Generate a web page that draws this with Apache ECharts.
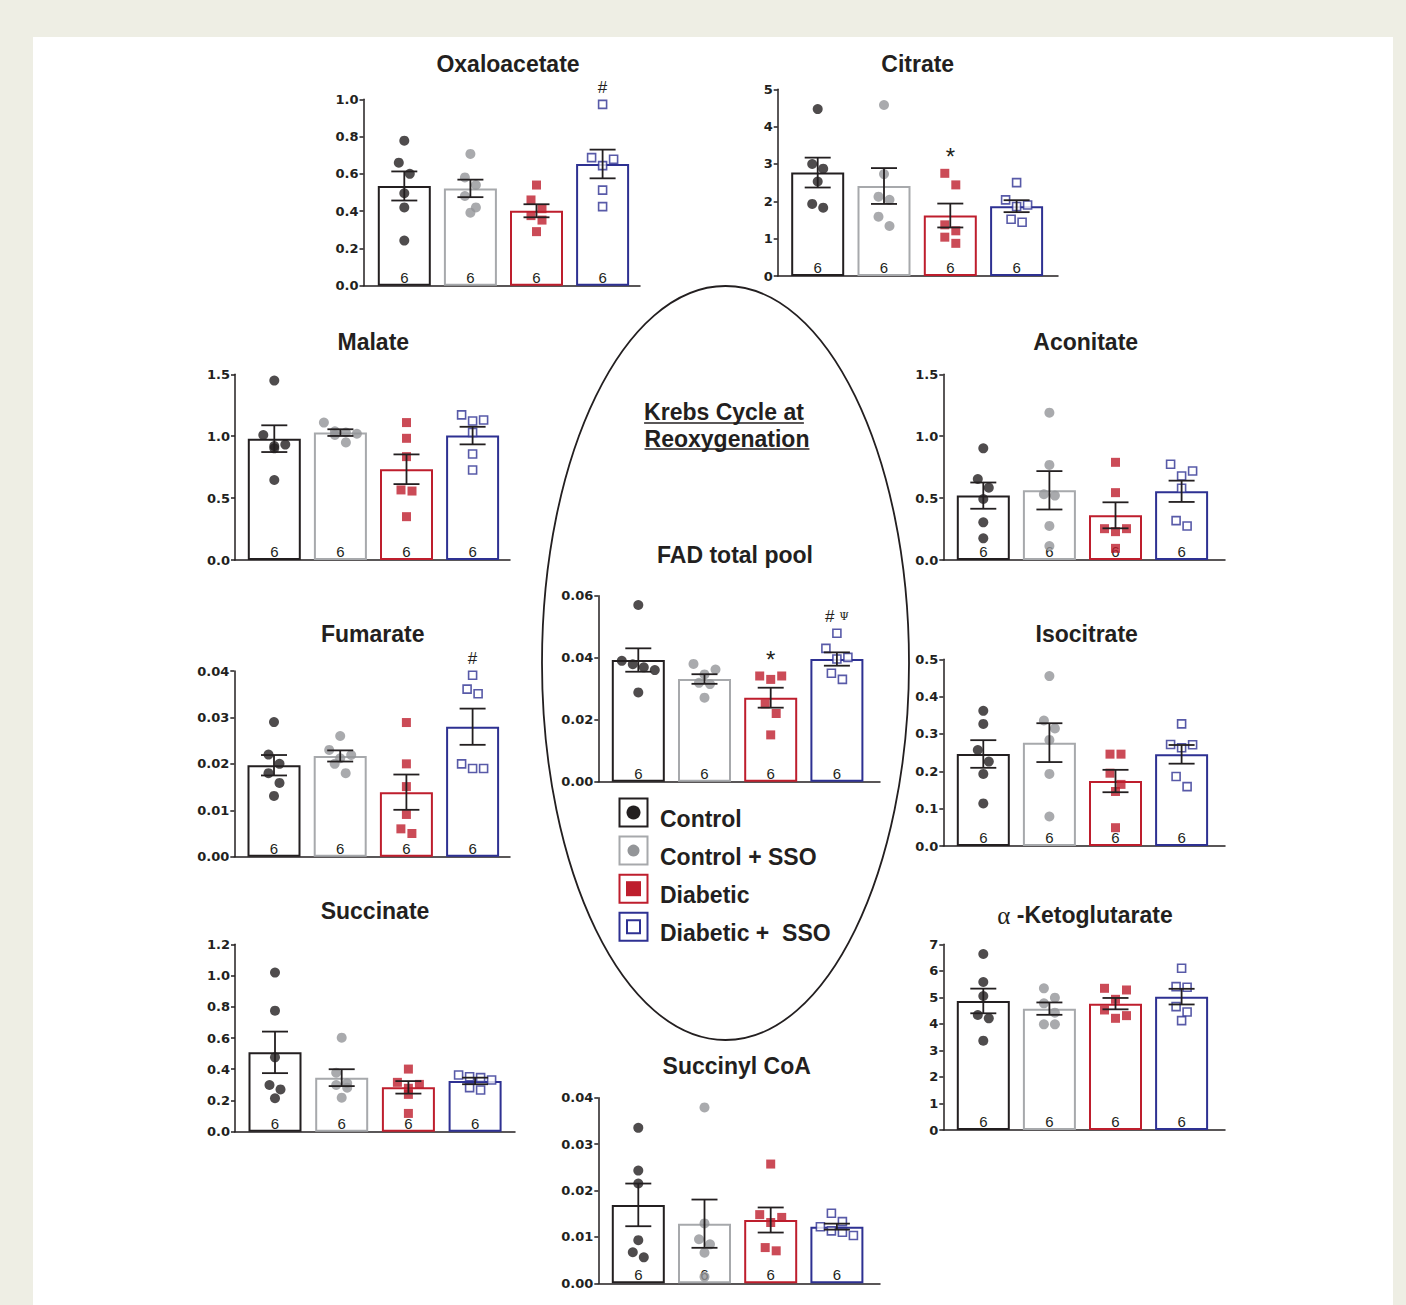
<!DOCTYPE html>
<html>
<head>
<meta charset="utf-8">
<script src="https://cdn.jsdelivr.net/npm/echarts@6/dist/echarts.min.js"></script>
<style>
  html, body { margin: 0; padding: 0; background: #eeeee4; }
  #paper { position: absolute; left: 33px; top: 37px; width: 1360px; height: 1268px; background: #ffffff; }
  #chart { position: absolute; left: 0; top: 0; width: 1406px; height: 1305px; }
</style>
</head>
<body>
<div id="paper"></div>
<div id="chart"></div>
<script>
// ---------------- DATA ----------------
const groups = ['Control', 'Control + SSO', 'Diabetic', 'Diabetic +  SSO'];

const oxaloTicks = ['0.0', '0.2', '0.4', '0.6', '0.8', '1.0'];
const oxaloMean = [0.535, 0.522, 0.402, 0.653];
const oxaloSem = [0.078, 0.047, 0.035, 0.077];
const oxaloPoints = [
  [0.778, 0.66, 0.60, 0.496, 0.42, 0.242],
  [0.707, 0.581, 0.540, 0.481, 0.42, 0.392],
  [0.540, 0.460, 0.413, 0.376, 0.352, 0.290],
  [0.973, 0.687, 0.678, 0.644, 0.513, 0.424]
];
const oxaloN = [6, 6, 6, 6];
const oxaloSig = ['', '', '', '#'];

const citrateTicks = ['0', '1', '2', '3', '4', '5'];
const citrateMean = [2.77, 2.41, 1.62, 1.87];
const citrateSem = [0.40, 0.48, 0.32, 0.16];
const citratePoints = [
  [4.47, 3.0, 2.875, 2.53, 1.93, 1.83],
  [4.58, 2.73, 2.125, 2.04, 1.59, 1.34],
  [2.75, 2.44, 1.37, 1.21, 1.04, 0.875],
  [2.50, 2.04, 1.90, 1.86, 1.52, 1.44]
];
const citrateN = [6, 6, 6, 6];
const citrateSig = ['', '', '*', ''];

const malateTicks = ['0.0', '0.5', '1.0', '1.5'];
const malateMean = [0.98, 1.029, 0.733, 1.005];
const malateSem = [0.108, 0.027, 0.12, 0.071];
const malatePoints = [
  [1.449, 1.01, 0.932, 0.921, 0.902, 0.646],
  [1.11, 1.04, 1.03, 1.02, 1.01, 0.95],
  [1.11, 0.983, 0.835, 0.566, 0.557, 0.35],
  [1.172, 1.131, 1.123, 1.031, 0.856, 0.727]
];
const malateN = [6, 6, 6, 6];
const malateSig = ['', '', '', ''];

const aconitateTicks = ['0.0', '0.5', '1.0', '1.5'];
const aconitateMean = [0.52, 0.563, 0.361, 0.555];
const aconitateSem = [0.106, 0.155, 0.105, 0.086];
const aconitatePoints = [
  [0.902, 0.654, 0.584, 0.493, 0.304, 0.175],
  [1.19, 0.768, 0.531, 0.52, 0.275, 0.113],
  [0.789, 0.544, 0.253, 0.253, 0.229, 0.094],
  [0.773, 0.719, 0.679, 0.579, 0.318, 0.275]
];
const aconitateN = [6, 6, 6, 6];
const aconitateSig = ['', '', '', ''];

const fumarateTicks = ['0.00', '0.01', '0.02', '0.03', '0.04'];
const fumarateMean = [0.0197, 0.0217, 0.0139, 0.0280];
const fumarateSem = [0.0022, 0.0012, 0.0038, 0.0039];
const fumaratePoints = [
  [0.029, 0.022, 0.020, 0.018, 0.0159, 0.0131],
  [0.026, 0.023, 0.0219, 0.0212, 0.020, 0.018],
  [0.0289, 0.020, 0.0151, 0.0091, 0.0060, 0.0050],
  [0.0391, 0.0361, 0.0351, 0.0200, 0.0190, 0.0190]
];
const fumarateN = [6, 6, 6, 6];
const fumarateSig = ['', '', '', '#'];

const isocitrateTicks = ['0.0', '0.1', '0.2', '0.3', '0.4', '0.5'];
const isocitrateMean = [0.2464, 0.2768, 0.174, 0.2455];
const isocitrateSem = [0.037, 0.052, 0.030, 0.025];
const isocitratePoints = [
  [0.362, 0.327, 0.257, 0.226, 0.193, 0.114],
  [0.455, 0.336, 0.315, 0.284, 0.193, 0.079],
  [0.246, 0.246, 0.195, 0.165, 0.146, 0.049],
  [0.327, 0.272, 0.271, 0.263, 0.186, 0.159]
];
const isocitrateN = [6, 6, 6, 6];
const isocitrateSig = ['', '', '', ''];

const succinateTicks = ['0.0', '0.2', '0.4', '0.6', '0.8', '1.0', '1.2'];
const succinateMean = [0.508, 0.346, 0.284, 0.325];
const succinateSem = [0.133, 0.054, 0.040, 0.021];
const succinatePoints = [
  [1.019, 0.775, 0.476, 0.299, 0.271, 0.214],
  [0.602, 0.378, 0.310, 0.299, 0.282, 0.218],
  [0.401, 0.316, 0.303, 0.278, 0.239, 0.117],
  [0.363, 0.352, 0.346, 0.331, 0.282, 0.267]
];
const succinateN = [6, 6, 6, 6];
const succinateSig = ['', '', '', ''];

const akgTicks = ['0', '1', '2', '3', '4', '5', '6', '7'];
const akgMean = [4.864, 4.575, 4.763, 5.027];
const akgSem = [0.465, 0.233, 0.214, 0.295];
const akgPoints = [
  [6.636, 5.58, 5.052, 4.336, 4.21, 3.368],
  [5.341, 4.989, 4.776, 4.424, 3.984, 3.984],
  [5.341, 5.278, 4.926, 4.524, 4.311, 4.21],
  [6.095, 5.404, 5.379, 4.65, 4.449, 4.122]
];
const akgN = [6, 6, 6, 6];
const akgSig = ['', '', '', ''];

const succoaTicks = ['0.00', '0.01', '0.02', '0.03', '0.04'];
const succoaMean = [0.0169, 0.01285, 0.01364, 0.01221];
const succoaSem = [0.0046, 0.0052, 0.0027, 0.00065];
const succoaPoints = [
  [0.0335, 0.0243, 0.0215, 0.0093, 0.0067, 0.0056],
  [0.0379, 0.0129, 0.0095, 0.0084, 0.0066, 0.0014],
  [0.0257, 0.0148, 0.0142, 0.0131, 0.0077, 0.0070],
  [0.0151, 0.0133, 0.0122, 0.0113, 0.0110, 0.0103]
];
const succoaN = [6, 6, 6, 6];
const succoaSig = ['', '', '', ''];

const fadTicks = ['0.00', '0.02', '0.04', '0.06'];
const fadMean = [0.03925, 0.03312, 0.0271, 0.03957];
const fadSem = [0.00377, 0.00155, 0.00322, 0.00215];
const fadPoints = [
  [0.0570, 0.0390, 0.0379, 0.0369, 0.0360, 0.0288],
  [0.0380, 0.0362, 0.0346, 0.0319, 0.0315, 0.0271],
  [0.0341, 0.0341, 0.0330, 0.0251, 0.0220, 0.0151],
  [0.0479, 0.0430, 0.0401, 0.0396, 0.0350, 0.0330]
];
const fadN = [6, 6, 6, 6];
const fadSig = ['', '', '*', '#Ψ'];

const centerTitle = ['Krebs Cycle at', 'Reoxygenation'];
const legendLabels = groups;

// ---------------- LAYOUT & STYLE ----------------
const panels = [
  { key: 'oxalo', title: 'Oxaloacetate', ticks: oxaloTicks, mean: oxaloMean, sem: oxaloSem, pts: oxaloPoints, n: oxaloN, sig: oxaloSig },
  { key: 'citrate', title: 'Citrate', ticks: citrateTicks, mean: citrateMean, sem: citrateSem, pts: citratePoints, n: citrateN, sig: citrateSig },
  { key: 'malate', title: 'Malate', ticks: malateTicks, mean: malateMean, sem: malateSem, pts: malatePoints, n: malateN, sig: malateSig },
  { key: 'aconitate', title: 'Aconitate', ticks: aconitateTicks, mean: aconitateMean, sem: aconitateSem, pts: aconitatePoints, n: aconitateN, sig: aconitateSig },
  { key: 'fumarate', title: 'Fumarate', ticks: fumarateTicks, mean: fumarateMean, sem: fumarateSem, pts: fumaratePoints, n: fumarateN, sig: fumarateSig },
  { key: 'isocitrate', title: 'Isocitrate', ticks: isocitrateTicks, mean: isocitrateMean, sem: isocitrateSem, pts: isocitratePoints, n: isocitrateN, sig: isocitrateSig },
  { key: 'succinate', title: 'Succinate', ticks: succinateTicks, mean: succinateMean, sem: succinateSem, pts: succinatePoints, n: succinateN, sig: succinateSig },
  { key: 'akg', title: '{a|α} -Ketoglutarate', ticks: akgTicks, mean: akgMean, sem: akgSem, pts: akgPoints, n: akgN, sig: akgSig },
  { key: 'succoa', title: 'Succinyl CoA', ticks: succoaTicks, mean: succoaMean, sem: succoaSem, pts: succoaPoints, n: succoaN, sig: succoaSig },
  { key: 'fad', title: 'FAD total pool', ticks: fadTicks, mean: fadMean, sem: fadSem, pts: fadPoints, n: fadN, sig: fadSig }
];

const LAYOUT = {
  oxalo:      { axisX: 363.5, top: 99.3,   bottom: 285.7,  c1: 404.3, sp: 66.1, end: 640,  tx: 508,    ty: 63.5 },
  citrate:    { axisX: 777.7, top: 89.3,   bottom: 276,    c1: 817.7, sp: 66.3, end: 1058, tx: 917.7,  ty: 63.5 },
  malate:     { axisX: 235,   top: 374.3,  bottom: 560,    c1: 274.3, sp: 66.1, end: 510,  tx: 373.3,  ty: 342 },
  aconitate:  { axisX: 943.3, top: 374.3,  bottom: 560,    c1: 983.3, sp: 66.1, end: 1225, tx: 1085.7, ty: 342 },
  fumarate:   { axisX: 234.3, top: 671,    bottom: 856.7,  c1: 274,   sp: 66.2, end: 510,  tx: 372.7,  ty: 633.5 },
  isocitrate: { axisX: 943.3, top: 659.3,  bottom: 846,    c1: 983.3, sp: 66.1, end: 1225, tx: 1086.7, ty: 633.5 },
  succinate:  { axisX: 235,   top: 944.3,  bottom: 1131.7, c1: 275,   sp: 66.7, end: 515,  tx: 375,    ty: 911 },
  akg:        { axisX: 943.3, top: 944.3,  bottom: 1130,   c1: 983.3, sp: 66.1, end: 1225, tx: 1085,   ty: 915 },
  succoa:     { axisX: 598.3, top: 1097.7, bottom: 1283.3, c1: 638.3, sp: 66.2, end: 880,  tx: 736.7,  ty: 1065.5 },
  fad:        { axisX: 598.3, top: 595.7,  bottom: 781.7,  c1: 638.3, sp: 66.2, end: 880,  tx: 735,    ty: 554.5 }
};

const INK = '#231f20';
const BAR_COL = ['#231f20', '#a7a9ac', '#be1e2d', '#2e3192'];
const PT_STYLE = [
  { symbol: 'circle', symbolSize: 10, itemStyle: { color: '#231f20' } },
  { symbol: 'circle', symbolSize: 10, itemStyle: { color: '#939598' } },
  { symbol: 'rect', symbolSize: 9, itemStyle: { color: '#be1e2d' } },
  { symbol: 'rect', symbolSize: 8, itemStyle: { color: '#ffffff', borderColor: '#2e3192', borderWidth: 1.6 } }
];
const BAR_W = 53, STEP = 11, ROWH = 12, CAP = 13;
const SANS = '"Liberation Sans", Arial, Helvetica, sans-serif';

// simple symmetric swarm: returns horizontal offsets in px
function swarm(vals, pxPerUnit) {
  const idx = vals.map((v, i) => i).sort((a, b) => vals[b] - vals[a]);
  const off = new Array(vals.length).fill(0);
  let row = [];
  const flush = () => {
    const k = row.length;
    const order = k === 3 ? [-1, 1, 0] : row.map((_, j) => j - (k - 1) / 2);
    row.forEach((id, j) => { off[id] = order[j] * STEP; });
    row = [];
  };
  idx.forEach(id => {
    if (row.length && (vals[row[0]] - vals[id]) * pxPerUnit > ROWH) flush();
    row.push(id);
  });
  flush();
  return off;
}

const grids = [], xAxes = [], yAxes = [], series = [], titles = [];

panels.forEach((p, i) => {
  const L = LAYOUT[p.key];
  const yMin = parseFloat(p.ticks[0]);
  const yMax = parseFloat(p.ticks[p.ticks.length - 1]);
  const yInt = parseFloat(p.ticks[1]) - yMin;
  const h = L.bottom - L.top;
  const pxPerUnit = h / (yMax - yMin);

  grids.push({ left: L.axisX, top: L.top, width: L.end - L.axisX, height: h, containLabel: false });
  xAxes.push({
    gridIndex: i, type: 'value',
    min: -(L.c1 - L.axisX) / L.sp, max: (L.end - L.c1) / L.sp,
    axisLine: { show: true, onZero: false, lineStyle: { color: INK, width: 1.5 } },
    axisTick: { show: false }, axisLabel: { show: false }, splitLine: { show: false }
  });
  yAxes.push({
    gridIndex: i, type: 'value', min: yMin, max: yMax, interval: yInt,
    axisLine: { show: true, onZero: false, lineStyle: { color: INK, width: 1.5 } },
    axisTick: { show: true, length: 4, lineStyle: { color: INK, width: 1.5 } },
    axisLabel: {
      margin: 5, color: INK, fontFamily: '"DejaVu Sans", sans-serif', fontWeight: 'bold', fontSize: 13,
      formatter: v => p.ticks[Math.round((v - yMin) / yInt)]
    },
    splitLine: { show: false }
  });

  titles.push({
    text: p.title, left: L.tx, top: L.ty, textAlign: 'center', textVerticalAlign: 'middle', padding: 0,
    textStyle: {
      fontFamily: SANS, fontWeight: 'bold', fontSize: 23, color: INK,
      rich: { a: { fontFamily: '"Liberation Serif", serif', fontWeight: 'normal', fontSize: 25, color: INK } }
    }
  });

  // bars
  series.push({
    type: 'bar', xAxisIndex: i, yAxisIndex: i, barWidth: BAR_W, silent: true, z: 2,
    data: p.mean.map((m, g) => ({
      value: [g, m],
      itemStyle: { color: '#ffffff', borderColor: BAR_COL[g], borderWidth: 2 }
    })),
    label: {
      show: true, position: 'insideBottom', distance: 1,
      fontFamily: SANS, fontSize: 15, color: INK,
      formatter: prm => String(p.n[prm.dataIndex])
    }
  });

  // individual points
  const ptData = [];
  p.pts.forEach((vals, g) => {
    const off = swarm(vals, pxPerUnit);
    vals.forEach((v, k) => {
      ptData.push(Object.assign({ value: [g + off[k] / L.sp, v] }, PT_STYLE[g]));
    });
  });
  series.push({ type: 'scatter', xAxisIndex: i, yAxisIndex: i, silent: true, z: 3, data: ptData });

  // error bars (mean ± SEM)
  series.push({
    type: 'custom', xAxisIndex: i, yAxisIndex: i, silent: true, z: 4,
    encode: { x: 0, y: [1, 2] },
    data: p.mean.map((m, g) => [g, m - p.sem[g], m + p.sem[g]]),
    renderItem: (params, api) => {
      const lo = api.coord([api.value(0), api.value(1)]);
      const hi = api.coord([api.value(0), api.value(2)]);
      const st = { stroke: INK, lineWidth: 1.8 };
      return {
        type: 'group', children: [
          { type: 'line', shape: { x1: lo[0], y1: lo[1], x2: hi[0], y2: hi[1] }, style: st },
          { type: 'line', shape: { x1: hi[0] - CAP, y1: hi[1], x2: hi[0] + CAP, y2: hi[1] }, style: st },
          { type: 'line', shape: { x1: lo[0] - CAP, y1: lo[1], x2: lo[0] + CAP, y2: lo[1] }, style: st }
        ]
      };
    }
  });

  // significance marks above the highest point of a group
  const sigData = [];
  p.sig.forEach((s, g) => {
    if (!s) return;
    const top = Math.max(...p.pts[g], p.mean[g] + p.sem[g]);
    const isStar = s === '*';
    sigData.push({
      value: [g, top],
      label: {
        show: true, position: 'top', distance: isStar ? 4 : 8,
        formatter: s.replace('Ψ', ' {p|Ψ}'),
        fontFamily: SANS, fontSize: isStar ? 24 : 17, color: INK, opacity: 1,
        rich: { p: { fontFamily: '"DejaVu Serif", serif', fontSize: 11, color: INK } }
      }
    });
  });
  if (sigData.length) {
    series.push({
      type: 'scatter', xAxisIndex: i, yAxisIndex: i, silent: true, z: 5,
      symbolSize: 1, itemStyle: { color: 'rgba(0,0,0,0)' }, data: sigData
    });
  }
});

// ---------- center decorations: ellipse, title, legend ----------
const measure = document.createElement('canvas').getContext('2d');
measure.font = 'bold 23px "Liberation Sans"';
const graphics = [
  { type: 'ellipse', shape: { cx: 725.5, cy: 663, rx: 183.5, ry: 377 }, style: { fill: 'none', stroke: INK, lineWidth: 1.8 }, silent: true }
];
const ctPos = [[724, 411.5, 423], [727, 439, 449]];
centerTitle.forEach((t, k) => {
  const w = measure.measureText(t).width;
  const [cx, cy, uy] = ctPos[k];
  graphics.push({ type: 'text', x: cx, y: cy, style: { text: t, fill: INK, font: 'bold 23px ' + SANS, align: 'center', verticalAlign: 'middle' } });
  graphics.push({ type: 'line', shape: { x1: cx - w / 2, y1: uy, x2: cx + w / 2, y2: uy }, style: { stroke: INK, lineWidth: 1.5 } });
});

legendLabels.forEach((lab, g) => {
  const bx = 619.5, by = 798.5 + g * 38.1, bs = 28;
  const cx = bx + bs / 2, cy = by + bs / 2;
  graphics.push({ type: 'rect', shape: { x: bx, y: by, width: bs, height: bs }, style: { fill: '#fff', stroke: BAR_COL[g], lineWidth: 2 } });
  let marker;
  if (g === 0) marker = { type: 'circle', shape: { cx, cy, r: 7 }, style: { fill: '#231f20' } };
  else if (g === 1) marker = { type: 'circle', shape: { cx, cy, r: 6 }, style: { fill: '#939598' } };
  else if (g === 2) marker = { type: 'rect', shape: { x: cx - 7.5, y: cy - 7.5, width: 15, height: 15 }, style: { fill: '#be1e2d' } };
  else marker = { type: 'rect', shape: { x: cx - 6.5, y: cy - 6.5, width: 13, height: 13 }, style: { fill: '#fff', stroke: '#2e3192', lineWidth: 2 } };
  graphics.push(marker);
  graphics.push({ type: 'text', x: 660, y: 819.3 + g * 37.9, style: { text: lab, fill: INK, font: 'bold 23px ' + SANS, verticalAlign: 'middle', whiteSpace: 'pre' } });
});

const chart = echarts.init(document.getElementById('chart'), null, { renderer: 'svg', width: 1406, height: 1305 });
chart.setOption({
  animation: false,
  backgroundColor: 'transparent',
  title: titles,
  grid: grids,
  xAxis: xAxes,
  yAxis: yAxes,
  series: series,
  graphic: { elements: graphics }
});
</script>
</body>
</html>
